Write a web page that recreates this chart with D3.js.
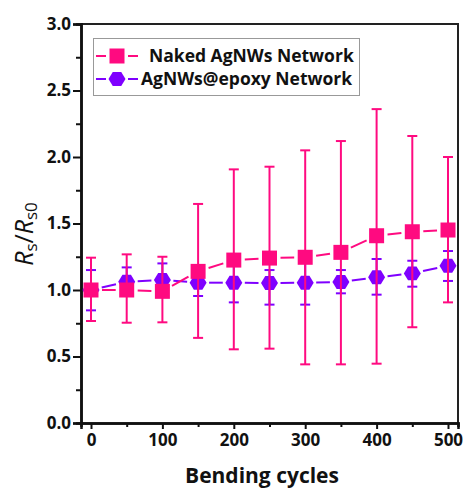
<!DOCTYPE html>
<html><head><meta charset="utf-8">
<script src="https://cdn.jsdelivr.net/npm/d3@7"></script>
<style>
html,body{margin:0;padding:0;background:#fff;}
svg{display:block;font-family:"Open Sans",sans-serif;}
</style></head>
<body>
<svg id="c" width="464" height="488"></svg>
<script>
const cycles = [0, 50, 100, 150, 200, 250, 300, 350, 400, 450, 500];
const nakedMean = [1.0, 1.0, 0.99, 1.14, 1.225, 1.24, 1.246, 1.283, 1.408, 1.438, 1.451];
const nakedUpper = [1.243, 1.268, 1.25, 1.647, 1.907, 1.927, 2.05, 2.12, 2.36, 2.158, 2.0];
const nakedLower = [0.767, 0.754, 0.757, 0.64, 0.554, 0.559, 0.441, 0.441, 0.446, 0.72, 0.907];
const epoxyMean = [1.0, 1.062, 1.075, 1.055, 1.055, 1.052, 1.055, 1.06, 1.095, 1.125, 1.183];
const epoxyUpper = [1.15, 1.17, 1.2, 1.155, 1.2, 1.15, 1.22, 1.15, 1.233, 1.22, 1.293];
const epoxyLower = [0.847, 0.955, 0.95, 0.955, 0.907, 0.89, 0.89, 0.975, 0.965, 1.025, 1.068];
const xTicks = [0, 100, 200, 300, 400, 500];
const xMinor = [50, 150, 250, 350, 450];
const yTicks = [0, 0.5, 1.0, 1.5, 2.0, 2.5, 3.0];
const yMinor = [0.25, 0.75, 1.25, 1.75, 2.25, 2.75];
const seriesNames = ["Naked AgNWs Network", "AgNWs@epoxy Network"];

const PINK = "#ff0a80", PURPLE = "#7f00ff";
const svg = d3.select("#c");
const x = d3.scaleLinear().domain([-14, 514]).range([81, 458]);
const y = d3.scaleLinear().domain([0, 3]).range([423, 24]);

// frame (top/right)
svg.append("path").attr("d", `M${x(-14)},${y(3)}H${x(514)}V${y(0)}`)
  .attr("fill", "none").attr("stroke", "#222").attr("stroke-width", 2);

// axes
const xAxis = svg.append("g").attr("transform", `translate(0,${y(0)})`)
  .call(d3.axisBottom(x).tickValues(xTicks).tickFormat(d3.format("d")).tickSize(6).tickPadding(5));
const xAxisMinor = svg.append("g").attr("transform", `translate(0,${y(0)})`)
  .call(d3.axisBottom(x).tickValues(xMinor).tickFormat("").tickSize(4));
const yAxis = svg.append("g").attr("transform", `translate(${x(-14)},0)`)
  .call(d3.axisLeft(y).tickValues(yTicks).tickFormat(d3.format(".1f")).tickSize(8).tickPadding(2));
const yAxisMinor = svg.append("g").attr("transform", `translate(${x(-14)},0)`)
  .call(d3.axisLeft(y).tickValues(yMinor).tickFormat("").tickSize(5));
[xAxis, xAxisMinor, yAxis, yAxisMinor].forEach(g => {
  g.select(".domain").attr("stroke", "#111").attr("stroke-width", 2.5);
  g.selectAll(".tick line").attr("stroke", "#111").attr("stroke-width", 2);
  g.selectAll(".tick text").attr("fill", "#111").attr("font-size", 17).attr("font-weight", 700)
    .attr("font-family", "'Open Sans',sans-serif");
});

// axis titles
svg.append("text").attr("x", 262).attr("y", 483).attr("text-anchor", "middle")
  .attr("font-size", 21).attr("font-weight", 700).attr("fill", "#111").text("Bending cycles");
const yl = svg.append("text").attr("transform", "translate(33,234) rotate(-90)")
  .attr("text-anchor", "middle").attr("font-size", 25).attr("fill", "#111");
yl.append("tspan").attr("font-style", "italic").text("R");
yl.append("tspan").attr("font-size", 17).attr("dy", 4).text("s");
yl.append("tspan").attr("dy", -4).text("/");
yl.append("tspan").attr("font-style", "italic").text("R");
yl.append("tspan").attr("font-size", 17).attr("dy", 4).text("s0");

const hexPath = (r) => {
  const pts = d3.range(6).map(i => [r * Math.cos(i * Math.PI / 3), r * Math.sin(i * Math.PI / 3) * 0.95]);
  return "M" + pts.map(p => p.join(",")).join("L") + "Z";
};

function drawSeries(mean, up, lo, color, marker) {
  const g = svg.append("g");
  const pts = cycles.map((c, i) => [x(c), y(mean[i])]);
  const gap = 11;
  for (let i = 0; i < pts.length - 1; i++) {
    const [x1, y1] = pts[i], [x2, y2] = pts[i + 1];
    const L = Math.hypot(x2 - x1, y2 - y1);
    if (L <= 2 * gap) continue;
    const ux = (x2 - x1) / L, uy = (y2 - y1) / L;
    g.append("line").attr("x1", x1 + ux * gap).attr("y1", y1 + uy * gap)
      .attr("x2", x2 - ux * gap).attr("y2", y2 - uy * gap)
      .attr("stroke", color).attr("stroke-width", 2);
  }
  cycles.forEach((c, i) => {
    const cx = x(c);
    g.append("line").attr("x1", cx).attr("x2", cx).attr("y1", y(up[i])).attr("y2", y(lo[i]))
      .attr("stroke", color).attr("stroke-width", 2);
    [up[i], lo[i]].forEach(v => g.append("line").attr("x1", cx - 5).attr("x2", cx + 5)
      .attr("y1", y(v)).attr("y2", y(v)).attr("stroke", color).attr("stroke-width", 2));
  });
  cycles.forEach((c, i) => {
    if (marker === "square") {
      g.append("rect").attr("x", x(c) - 7.5).attr("y", y(mean[i]) - 7.5).attr("width", 15).attr("height", 15)
        .attr("fill", color);
    } else {
      g.append("path").attr("d", hexPath(8.5)).attr("transform", `translate(${x(c)},${y(mean[i])})`)
        .attr("fill", color);
    }
  });
}
drawSeries(epoxyMean, epoxyUpper, epoxyLower, PURPLE, "hex");
drawSeries(nakedMean, nakedUpper, nakedLower, PINK, "square");

// legend
const lg = svg.append("g");
lg.append("rect").attr("x", 93.5).attr("y", 38.5).attr("width", 266).attr("height", 57)
  .attr("fill", "#fff").attr("stroke", "#999").attr("stroke-width", 1);
const legendRows = [
  {name: seriesNames[0], color: PINK, marker: "square", cy: 56, tx: 149},
  {name: seriesNames[1], color: PURPLE, marker: "hex", cy: 79, tx: 141}
];
legendRows.forEach(r => {
  lg.append("line").attr("x1", 96).attr("x2", 106).attr("y1", r.cy).attr("y2", r.cy).attr("stroke", r.color).attr("stroke-width", 2);
  lg.append("line").attr("x1", 128).attr("x2", 138).attr("y1", r.cy).attr("y2", r.cy).attr("stroke", r.color).attr("stroke-width", 2);
  if (r.marker === "square") lg.append("rect").attr("x", 117 - 7.5).attr("y", r.cy - 7.5).attr("width", 15).attr("height", 15).attr("fill", r.color);
  else lg.append("path").attr("d", hexPath(8.5)).attr("transform", `translate(117,${r.cy})`).attr("fill", r.color);
  lg.append("text").attr("x", r.tx).attr("y", r.cy + 6).attr("font-size", 17.5).attr("font-weight", 700)
    .attr("fill", "#111").text(r.name);
});
</script>
</body></html>
